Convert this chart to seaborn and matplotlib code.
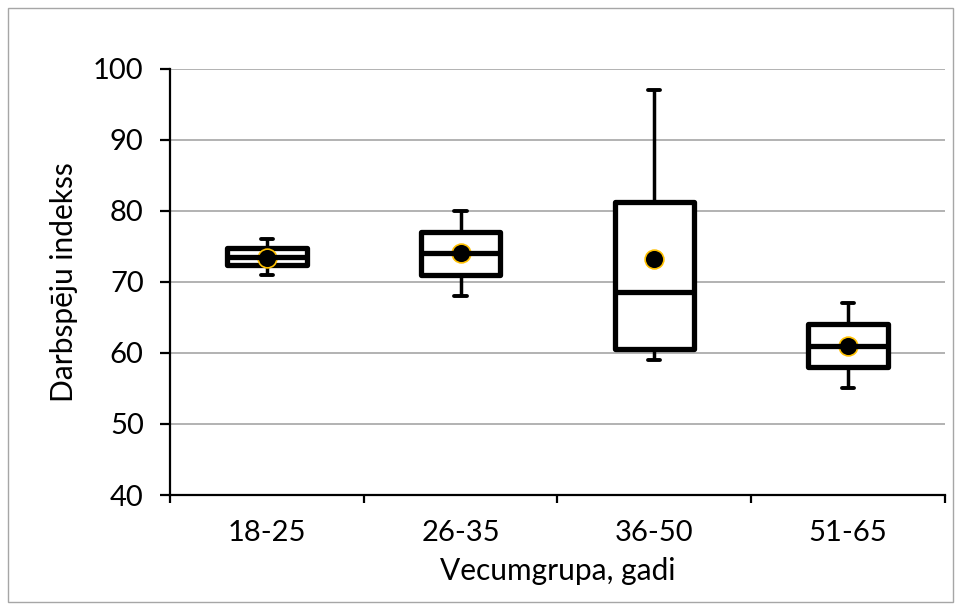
import pandas as pd
import seaborn as sns
import matplotlib.pyplot as plt
from matplotlib.patches import Rectangle

# box statistics
groups = ["18-25", "26-35", "36-50", "51-65"]
whisker_low = [71, 68, 59, 55]
q1 = [72.4, 71, 60.5, 58]
median = [73.5, 74, 68.5, 61]
q3 = [74.8, 77, 81.3, 64]
whisker_high = [76, 80, 97, 67]
means = [73.4, 74, 73.2, 61]


def build_frame():
    """ Five values per group so that min/q1/median/q3/max land exactly. """
    rows = []
    for i, g in enumerate(groups):
        for v in (whisker_low[i], q1[i], median[i], q3[i], whisker_high[i]):
            rows.append({"group": g, "value": v})
    return pd.DataFrame(rows)


sns.set_theme(style="white")
plt.rcParams['font.family'] = ['Lato', 'DejaVu Sans']

fig = plt.figure(figsize=(9.61, 6.10), dpi=100)
ax = fig.add_axes([0.177, 0.1885, 0.806, 0.699])

df = build_frame()
sns.boxplot(data=df, x="group", y="value", order=groups, whis=(0, 100),
            width=0.41, color="white", linecolor="black", linewidth=3.8,
            fliersize=0, capwidths=0.065,
            whiskerprops=dict(linewidth=2.5),
            capprops=dict(linewidth=2.8),
            boxprops=dict(joinstyle="round"),
            ax=ax)

mean_df = pd.DataFrame({"group": groups, "value": means})
sns.pointplot(data=mean_df, x="group", y="value", order=groups,
              linestyle="none", markers="o", color="black", errorbar=None,
              markersize=13.5, markeredgecolor="#FFC000", markeredgewidth=1.2,
              ax=ax)

ax.set_ylim(40, 100)
ax.set_yticks(range(40, 101, 10))
ax.set_xlim(-0.5, 3.5)
ax.set_xticks([-0.5, 0.5, 1.5, 2.5, 3.5])
ax.set_xticklabels([])
ax.set_xticks(range(len(groups)), minor=True)
ax.set_xticklabels(groups, minor=True)

ax.yaxis.grid(True, color="#A6A6A6", linewidth=1.2)
ax.set_axisbelow(True)
for side in ("top", "right"):
    ax.spines[side].set_visible(False)
for side in ("left", "bottom"):
    ax.spines[side].set_color("black")
    ax.spines[side].set_linewidth(1.6)

ax.tick_params(axis="y", which="major", direction="out", length=7, width=1.6,
               color="black", left=True, labelsize=21, pad=12, labelcolor="black")
ax.tick_params(axis="x", which="major", direction="out", length=6, width=1.6,
               color="black", bottom=True)
ax.tick_params(axis="x", which="minor", length=0, labelsize=21, pad=18,
               labelcolor="black")

ax.set_xlabel("Vecumgrupa, gadi", fontsize=21.5, color="black", labelpad=8)
ax.set_ylabel("Darbspēju indekss", fontsize=21.5, color="black", labelpad=11)

# light frame round the whole chart
fig.patches.append(Rectangle((8 / 961, 8 / 610), 945 / 961, 594 / 610,
                             transform=fig.transFigure, fill=False,
                             edgecolor="#A6A6A6", linewidth=1))

fig.savefig("out.png", dpi=100)
